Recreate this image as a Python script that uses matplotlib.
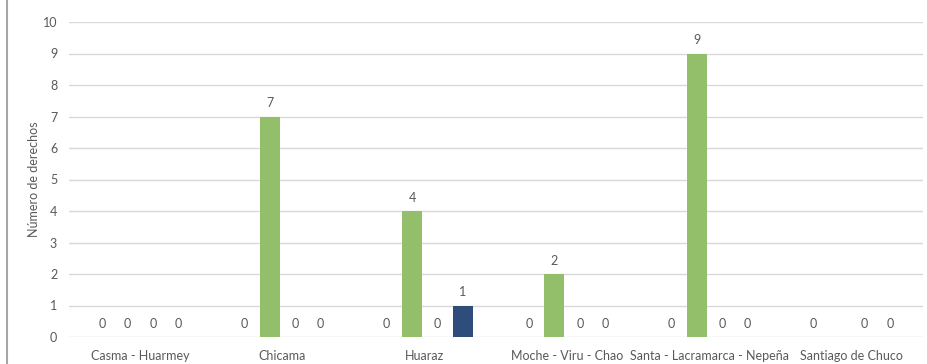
import numpy as np
import matplotlib.pyplot as plt
from matplotlib.lines import Line2D

# data
categorias = ["Casma - Huarmey", "Chicama", "Huaraz", "Moche - Viru - Chao",
              "Santa - Lacramarca - Nepeña", "Santiago de Chuco"]
serie_1 = [0, 0, 0, 0, 0, 0]
serie_2 = [0, 7, 4, 2, 9, np.nan]
serie_3 = [0, 0, 0, 0, 0, 0]
serie_4 = [0, 0, 1, 0, 0, 0]
colores = ["#A5A5A5", "#93BF6A", "#ED7D31", "#2F4D7B"]

plt.rcParams['font.family'] = ['Lato', 'DejaVu Sans']
gris = "#595959"

fig = plt.figure(figsize=(9.27, 3.64), dpi=100)
ax = fig.add_axes([69 / 927, 1 - 337 / 364, (923 - 69) / 927, (337 - 22) / 364])

x = np.arange(len(categorias))
ancho = 0.14
paso = 0.179
series = [serie_1, serie_2, serie_3, serie_4]
for i, (vals, col) in enumerate(zip(series, colores)):
    pos = x + (i - 1.5) * paso
    vals = np.array(vals, dtype=float)
    ax.bar(pos, np.nan_to_num(vals), width=ancho, color=col, zorder=3)
    for p, v in zip(pos, vals):
        if np.isnan(v):
            continue
        ax.annotate(f"{int(v)}", (p, v), xytext=(0, 9.4), textcoords="offset points",
                    ha="center", va="center", fontsize=9, color=gris)

ax.set_xlim(-0.5, len(categorias) - 0.5)
ax.set_ylim(0, 10)
ax.set_yticks(range(0, 11))
ax.set_xticks(x)
ax.set_xticklabels(categorias)
ax.grid(axis="y", color="#D9D9D9", linewidth=1, zorder=0)
for s in ax.spines.values():
    s.set_visible(False)
ax.tick_params(axis="both", length=0, colors=gris, labelsize=9)
ax.tick_params(axis="x", pad=9)
ax.tick_params(axis="y", pad=8.5)
ax.set_ylabel("Número de derechos", fontsize=9, color=gris, labelpad=2)

fig.add_artist(Line2D([7 / 927, 7 / 927], [0, 1], color="#A6A6A6", linewidth=1.5,
                      transform=fig.transFigure))

fig.savefig("out.png", dpi=100, facecolor="white")
